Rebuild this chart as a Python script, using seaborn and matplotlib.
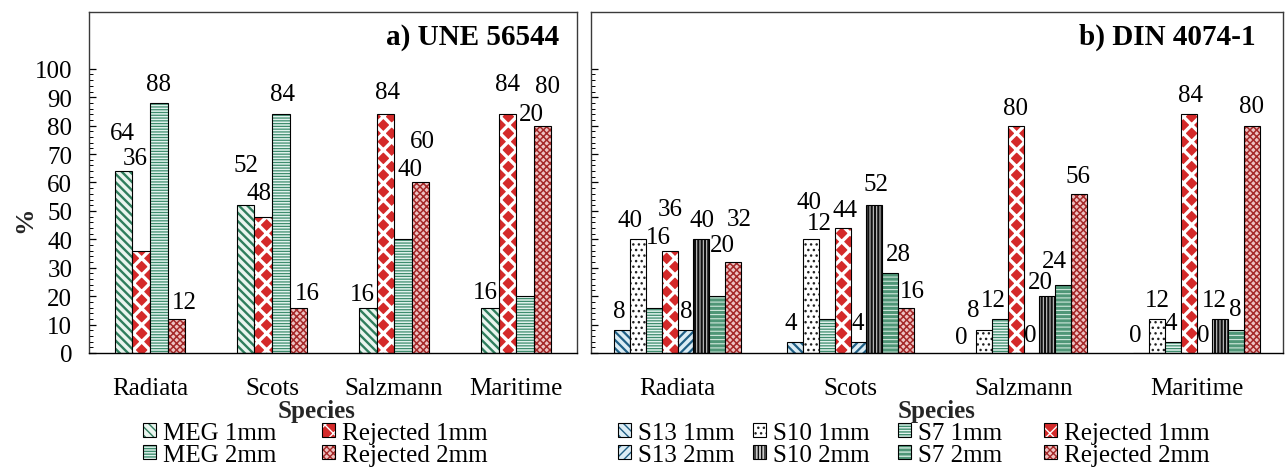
import numpy as np
import pandas as pd
import matplotlib
matplotlib.use("Agg")
import matplotlib.pyplot as plt
import matplotlib.patches as mpatches
from matplotlib.colors import to_rgba
import seaborn as sns

# ---------------------------------------------------------------- data
species = ["Radiata", "Scots", "Salzmann", "Maritime"]

# a) UNE 56544 grading
une_series = ["MEG 1mm", "Rejected 1mm", "MEG 2mm", "Rejected 2mm"]
une_meg_1mm = [64, 52, 16, 16]
une_rej_1mm = [36, 48, 84, 84]
une_meg_2mm = [88, 84, 40, 20]
une_rej_2mm = [12, 16, 60, 80]

# b) DIN 4074-1 grading
din_series = ["S13 1mm", "S10 1mm", "S7 1mm", "Rejected 1mm",
              "S13 2mm", "S10 2mm", "S7 2mm", "Rejected 2mm"]
din_s13_1mm = [8, 4, 0, 0]
din_s10_1mm = [40, 40, 8, 12]
din_s7_1mm = [16, 12, 12, 4]
din_rej_1mm = [36, 44, 80, 84]
din_s13_2mm = [8, 4, 0, 0]
din_s10_2mm = [40, 52, 20, 12]
din_s7_2mm = [20, 28, 24, 8]
din_rej_2mm = [32, 16, 56, 80]

une_values = [une_meg_1mm, une_rej_1mm, une_meg_2mm, une_rej_2mm]
din_values = [din_s13_1mm, din_s10_1mm, din_s7_1mm, din_rej_1mm,
              din_s13_2mm, din_s10_2mm, din_s7_2mm, din_rej_2mm]

# value-label placement: offset (pixels) of each label baseline from its bar top
une_label_dx = [[-1.5, 0, -5.5, -4.5], [-6, -4, 2, 0], [-0.5, 2, 7.5, 7], [8, 9, 2, 5]]
une_label_dy = [[32, 34, 8, 10], [87, 18, 16, 24], [13, 14, 64, 176], [11, 9, 35, 34]]
din_label_dx = [[-3, -4, -6.5, -6], [-7.5, -2, -11, 0.5], [5, -7.5, -6.5, -1.5],
                [1, 2.5, 0, 1.5], [0.5, -0.5, -1, -1], [0.5, 2, -7, -5.5],
                [5.5, 8.5, -9, -1], [6, 6.5, -1.5, -0.5]]
din_label_dy = [[13, 13, 10, 11.5], [13, 31, 14, 12.5], [65, 90, 13, 12.5],
                [36, 12, 12, 13], [13, 13, 11.5, 11.5], [13, 15, 8, 12.5],
                [45, 13.5, 18, 15], [37, 11, 12, 14]]

# ---------------------------------------------------------------- fill styles
# (face colour, hatch, hatch colour, hatch line width)
STYLE = {
    "MEG 1mm": ("#eaf5ef", "\\\\\\\\", "#2f7d5d", 1.7),
    "MEG 2mm": ("#e2f3ee", "------", "#3e8d6e", 0.9),
    "Rejected 1mm": ("#d42a2a", "xx", "#ffffff", 2.4),
    "Rejected 2mm": ("#eec2c2", "xxxxx", "#a42828", 1.1),
    "S13 1mm": ("#dcedf5", "\\\\\\\\", "#1f5f85", 1.6),
    "S13 2mm": ("#dcedf5", "////", "#1f5f85", 1.6),
    "S10 1mm": ("#ffffff", "...", "#222222", 1.0),
    "S10 2mm": ("#c8c8c8", "|||||", "#101010", 1.6),
    "S7 1mm": ("#e2f3ee", "------", "#3e8d6e", 0.9),
    "S7 2mm": ("#4f9677", "----", "#cfe8dc", 0.8),
}


def _draw_with_hatch_width(patch, lw):
    """Draw the patch with its own hatch line width."""
    base_draw = patch.draw

    def draw(renderer):
        with matplotlib.rc_context({"hatch.linewidth": lw}):
            base_draw(renderer)
    patch.draw = draw


def apply_style(patch, name):
    face, hatch, hcol, hlw = STYLE[name]
    patch.set_facecolor(face)
    patch.set_edgecolor("black")
    patch.set_linewidth(0.8)
    patch.set_hatch(hatch)
    if hasattr(patch, "set_hatchcolor"):
        patch.set_hatchcolor(hcol)
    else:
        patch._hatch_color = to_rgba(hcol)
    if hasattr(patch, "set_hatch_linewidth"):
        patch.set_hatch_linewidth(hlw)
    _draw_with_hatch_width(patch, hlw)


FS = 18

sns.set_theme(style="ticks")
plt.rcParams["font.family"] = ["Liberation Serif", "DejaVu Serif"]
plt.rcParams["hatch.linewidth"] = 1.0
plt.rcParams["text.color"] = "black"
plt.rcParams["xtick.color"] = "black"
plt.rcParams["ytick.color"] = "black"

fig = plt.figure(figsize=(12.86, 4.77), dpi=100)
ax1 = fig.add_axes([0.0692, 0.2579, 0.3795, 0.7149])
ax2 = fig.add_axes([0.4596, 0.2579, 0.5381, 0.7149])


def long_frame(series, values):
    return pd.DataFrame({
        "Species": [s for _ in series for s in species],
        "Series": [name for name in series for _ in species],
        "Value": [v for vals in values for v in vals],
    })


def draw_panel(ax, series, values, width, ldx, ldy):
    df = long_frame(series, values)
    sns.barplot(data=df, x="Species", y="Value", hue="Series",
                order=species, hue_order=series,
                palette={s: STYLE[s][0] for s in series}, saturation=1,
                width=width, errorbar=None, legend=False,
                edgecolor="black", linewidth=0.8, ax=ax)
    for i, (name, cont) in enumerate(zip(series, ax.containers)):
        for j, bar in enumerate(cont.patches):
            apply_style(bar, name)
            v = values[i][j]
            xc = bar.get_x() + bar.get_width() / 2
            ax.annotate(f"{v:g}", xy=(xc, v), xytext=(ldx[i][j], ldy[i][j]),
                        textcoords="offset pixels", ha="center", va="baseline",
                        fontsize=FS, color="black")


def style_axis(ax, labelled):
    ax.set_ylim(0, 120)
    ax.set_xlim(-0.5, 3.5)
    ax.set_yticks(np.arange(0, 101, 10))
    ax.set_yticks(np.arange(0, 101, 2), minor=True)
    ax.tick_params(axis="y", which="major", direction="in", length=5, width=0.9,
                   labelsize=FS, pad=12, left=True, right=False, labelleft=labelled)
    ax.tick_params(axis="y", which="minor", direction="in", length=3, width=0.7,
                   left=True, right=False)
    ax.tick_params(axis="x", length=0, labelsize=FS, pad=17)
    for sp in ax.spines.values():
        sp.set_visible(True)
        sp.set_color("#3a3a3a")
        sp.set_linewidth(1.0)
    ax.spines["bottom"].set_color("black")
    ax.set_xlabel("Species", fontsize=FS, fontweight="bold", labelpad=0)
    ax.set_ylabel("")


draw_panel(ax1, une_series, une_values, 0.574, une_label_dx, une_label_dy)
draw_panel(ax2, din_series, din_values, 0.734, din_label_dx, din_label_dy)
style_axis(ax1, True)
style_axis(ax2, False)
ax1.xaxis.label.set_x(0.467)

ax1.set_ylabel("%", fontsize=FS + 1, fontweight="bold")
ax1.yaxis.set_label_coords(-0.108, 0.393)

ax1.text(0.963, 0.928, "a) UNE 56544", transform=ax1.transAxes, ha="right",
         va="center", fontsize=21, fontweight="bold")
ax2.text(0.961, 0.928, "b) DIN 4074-1", transform=ax2.transAxes, ha="right",
         va="center", fontsize=21, fontweight="bold")


def legend_column(names, x_px):
    handles = []
    for name in names:
        p = mpatches.Patch()
        apply_style(p, name)
        handles.append(p)
    fig.legend(handles, names, loc="upper left",
               bbox_to_anchor=(x_px / 1286, 1 - 423 / 477),
               bbox_transform=fig.transFigure, frameon=False, fontsize=FS,
               handlelength=0.5, handleheight=0.5, handletextpad=0.3,
               labelspacing=0.0, borderpad=0, borderaxespad=0)


# legend columns below each panel
legend_column(["MEG 1mm", "MEG 2mm"], 143)
legend_column(["Rejected 1mm", "Rejected 2mm"], 322)
legend_column(["S13 1mm", "S13 2mm"], 618)
legend_column(["S10 1mm", "S10 2mm"], 753)
legend_column(["S7 1mm", "S7 2mm"], 898)
legend_column(["Rejected 1mm", "Rejected 2mm"], 1044)

fig.savefig("out.png", dpi=100, facecolor="white")
